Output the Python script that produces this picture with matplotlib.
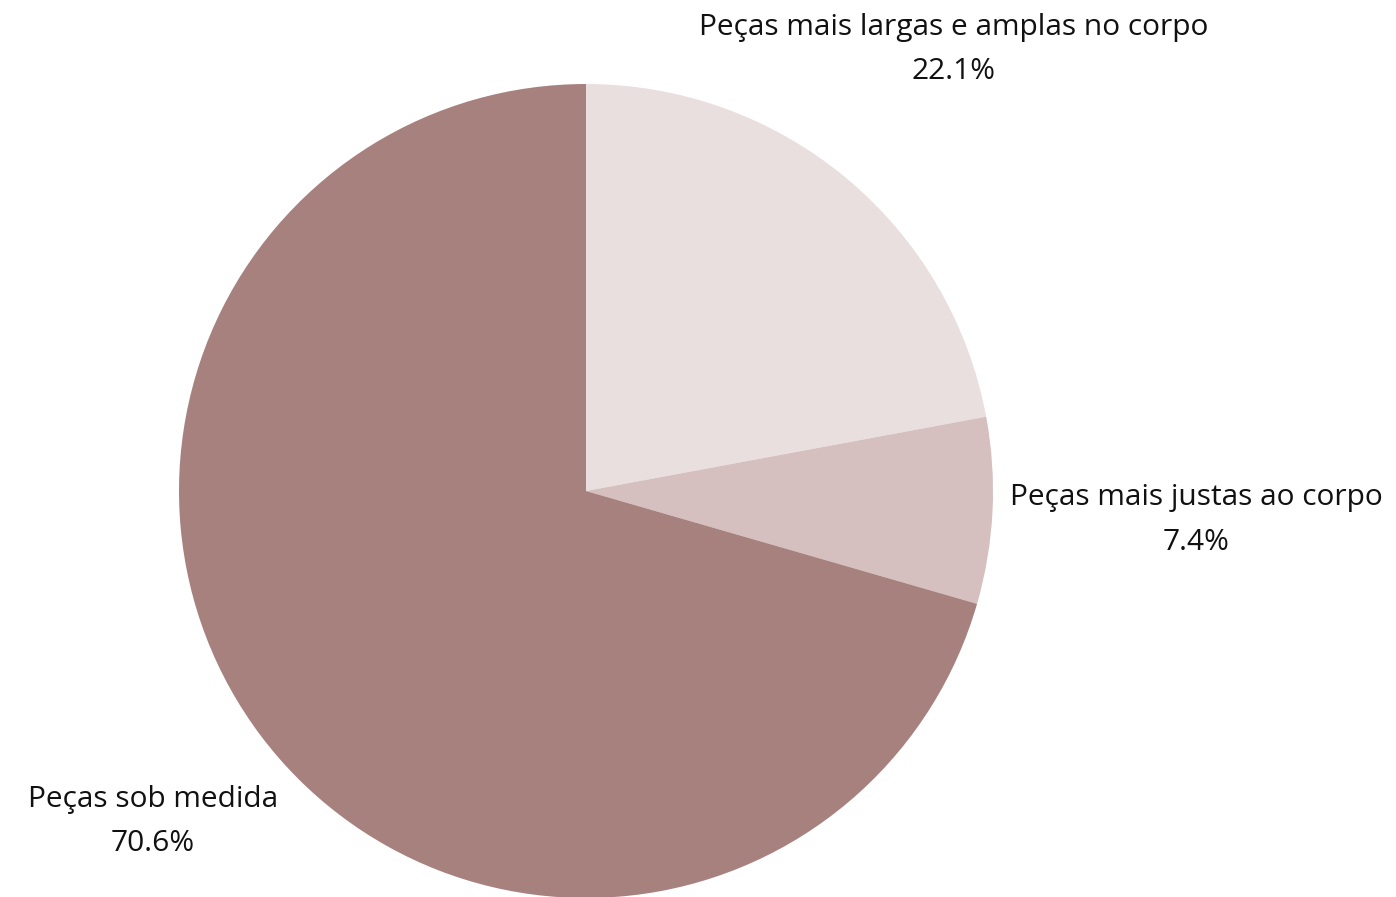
import matplotlib
matplotlib.use("Agg")
import matplotlib.pyplot as plt

categories = ["Peças mais largas e amplas no corpo", "Peças mais justas ao corpo", "Peças sob medida"]
values = [22.1, 7.4, 70.6]
colors = ["#E9DFDF", "#D5BFBF", "#A7817E"]
label_pos = [(0.904, 1.14), (1.499, -0.017), (-1.064, -0.757)]

plt.rcParams['font.family'] = ['Open Sans', 'DejaVu Sans']

fig = plt.figure(figsize=(13.96, 8.97), dpi=100)
r_px = 407
cx, cy = 586, 491
W, H = 1396, 897
ax = fig.add_axes([(cx - r_px) / W, (H - cy - r_px) / H, 2 * r_px / W, 2 * r_px / H])
ax.pie(values, colors=colors, startangle=90, counterclock=False, radius=1,
       wedgeprops=dict(linewidth=0))
ax.set_xlim(-1, 1)
ax.set_ylim(-1, 1)
ax.set_aspect('equal')
ax.axis('off')

for cat, v, (x, y) in zip(categories, values, label_pos):
    ax.text(x, y, cat, ha='center', va='center', fontsize=21.5, color='#111111', clip_on=False)
    ax.text(x, y - 0.11, f"{v:.1f}%", ha='center', va='center', fontsize=21.5, color='#111111', clip_on=False)

fig.savefig("out.png", dpi=100)
